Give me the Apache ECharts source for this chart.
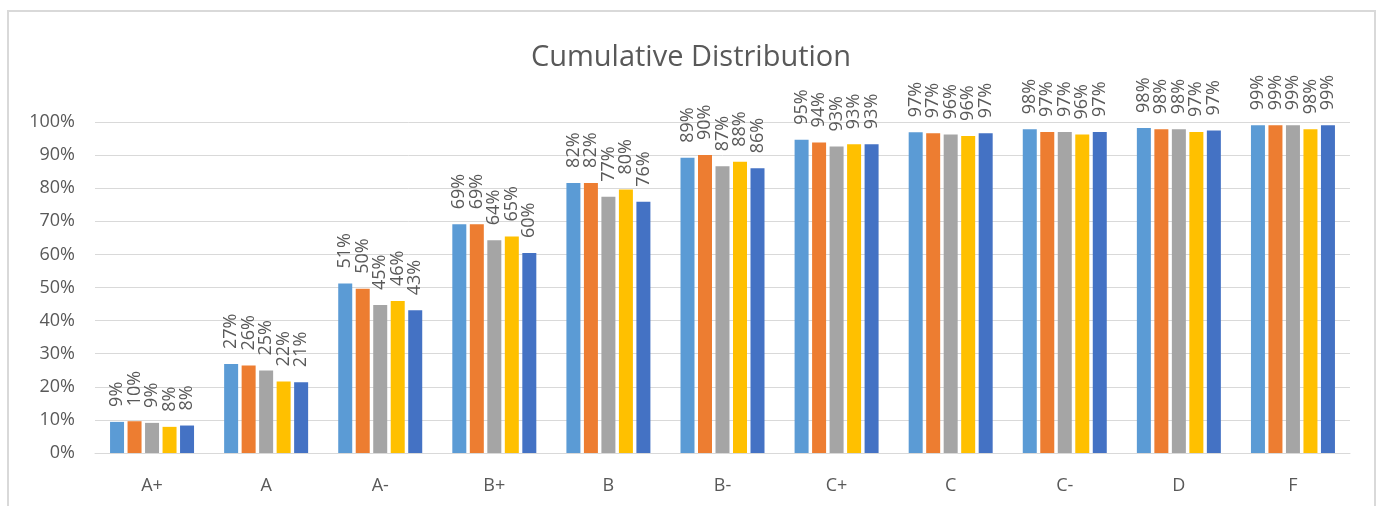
<!DOCTYPE html>
<html>
<head>
<meta charset="utf-8">
<title>Cumulative Distribution</title>
<script src="https://cdn.jsdelivr.net/npm/echarts@6/dist/echarts.min.js"></script>
<style>
  html, body { margin: 0; padding: 0; background: #ffffff; }
  #chart { width: 1382px; height: 506px; }
</style>
</head>
<body>
<div id="chart"></div>
<script>
// Grade categories along the x axis
const grades = ['A+', 'A', 'A-', 'B+', 'B', 'B-', 'C+', 'C', 'C-', 'D', 'F'];

// Cumulative share (%) of students at or above each grade, one array per series
const series1 = [9.4, 26.9, 51.2, 69.1, 81.6, 89.2, 94.6, 96.9, 97.8, 98.2, 99.0];
const series2 = [9.6, 26.4, 49.6, 69.1, 81.6, 90.0, 93.8, 96.6, 97.0, 97.8, 99.0];
const series3 = [9.1, 24.9, 44.7, 64.3, 77.4, 86.6, 92.6, 96.2, 97.0, 97.8, 99.0];
const series4 = [7.9, 21.6, 45.9, 65.4, 79.6, 88.0, 93.3, 95.8, 96.2, 97.0, 97.8];
const series5 = [8.3, 21.4, 43.1, 60.4, 75.9, 86.0, 93.3, 96.6, 97.0, 97.4, 99.0];

// Y axis ticks
const yMin = 0;
const yMax = 100;
const yStep = 10;

const seriesNames = ['Series1', 'Series2', 'Series3', 'Series4', 'Series5'];
const seriesData = [series1, series2, series3, series4, series5];
const palette = ['#5B9BD5', '#ED7D31', '#A5A5A5', '#FFC000', '#4472C4'];

const textColor = '#595959';
const fontFamily = '"Open Sans", "Noto Sans", sans-serif';

const chart = echarts.init(document.getElementById('chart'), null, { renderer: 'canvas' });

chart.setOption({
  animation: false,
  backgroundColor: '#ffffff',
  color: palette,
  title: {
    text: 'Cumulative Distribution',
    left: 'center',
    top: 38,
    textStyle: { color: textColor, fontFamily: fontFamily, fontSize: 29, fontWeight: 'normal' }
  },
  graphic: [{
    type: 'rect',
    shape: { x: 8, y: 11, width: 1367, height: 530 },
    style: { fill: 'none', stroke: '#D9D9D9', lineWidth: 2 },
    silent: true,
    z: -10
  }],
  grid: { left: 95, right: 32, top: 122, bottom: 53, containLabel: false },
  xAxis: {
    type: 'category',
    data: grades,
    axisLine: { show: true, lineStyle: { color: '#D9D9D9', width: 1 } },
    axisTick: { show: false },
    axisLabel: { color: textColor, fontFamily: fontFamily, fontSize: 18, margin: 24 },
    splitLine: { show: false }
  },
  yAxis: {
    type: 'value',
    min: yMin,
    max: yMax,
    interval: yStep,
    axisLine: { show: false },
    axisTick: { show: false },
    axisLabel: {
      color: textColor, fontFamily: fontFamily, fontSize: 18, margin: 20,
      formatter: '{value}%'
    },
    splitLine: { show: true, lineStyle: { color: '#D9D9D9', width: 1 } }
  },
  series: seriesData.map((data, i) => ({
    name: seriesNames[i],
    type: 'bar',
    data: data,
    barWidth: 14,
    barGap: '25%',
    itemStyle: { color: palette[i] },
    label: {
      show: true,
      position: 'top',
      rotate: 90,
      align: 'left',
      verticalAlign: 'middle',
      distance: 15,
      color: textColor,
      fontFamily: fontFamily,
      fontSize: 18,
      formatter: p => Math.round(p.value) + '%'
    }
  }))
});
</script>
</body>
</html>
